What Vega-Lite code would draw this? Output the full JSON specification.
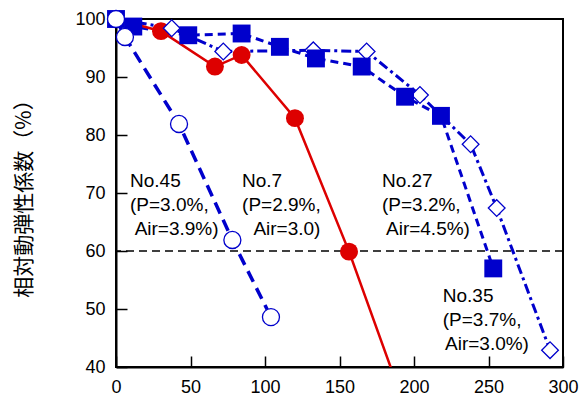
{
  "$schema": "https://vega.github.io/schema/vega-lite/v6.json",
  "width": 447,
  "height": 348,
  "autosize": {"type": "none"},
  "padding": {"left": 116, "top": 19, "right": 19, "bottom": 32},
  "background": "white",
  "config": {
    "view": {"stroke": "black", "strokeWidth": 2},
    "font": "Liberation Sans"
  },
  "datasets": {
    "series": [
      {"s": "No7", "x": 0, "y": 100},
      {"s": "No7", "x": 30.2, "y": 97.9},
      {"s": "No7", "x": 66.4, "y": 91.8},
      {"s": "No7", "x": 84.3, "y": 93.8},
      {"s": "No7", "x": 120.1, "y": 82.9},
      {"s": "No7", "x": 156.4, "y": 59.9},
      {"s": "No7", "x": 192, "y": 34.5},
      {"s": "No27", "x": 0, "y": 100},
      {"s": "No27", "x": 11.6, "y": 98.7},
      {"s": "No27", "x": 48.5, "y": 97.2},
      {"s": "No27", "x": 84.3, "y": 97.5},
      {"s": "No27", "x": 110, "y": 95.2},
      {"s": "No27", "x": 134.2, "y": 93.2},
      {"s": "No27", "x": 164.9, "y": 91.8},
      {"s": "No27", "x": 194, "y": 86.6},
      {"s": "No27", "x": 218.1, "y": 83.3},
      {"s": "No27", "x": 253.2, "y": 57.0},
      {"s": "No35", "x": 0, "y": 100},
      {"s": "No35", "x": 37.4, "y": 98.4},
      {"s": "No35", "x": 72, "y": 94.4},
      {"s": "No35", "x": 132.4, "y": 94.6},
      {"s": "No35", "x": 168.2, "y": 94.4},
      {"s": "No35", "x": 204, "y": 86.9},
      {"s": "No35", "x": 238, "y": 78.4},
      {"s": "No35", "x": 255.5, "y": 67.4},
      {"s": "No35", "x": 291.3, "y": 42.9},
      {"s": "No45", "x": 0, "y": 100},
      {"s": "No45", "x": 6, "y": 96.9},
      {"s": "No45", "x": 42.3, "y": 81.9},
      {"s": "No45", "x": 78.1, "y": 61.9},
      {"s": "No45", "x": 104, "y": 48.6}
    ],
    "labels": [
      {"t": "No.45", "x": 9.4, "y": 71.0},
      {"t": "(P=3.0%,", "x": 9.4, "y": 66.9},
      {"t": "Air=3.9%)", "x": 12.5, "y": 62.8},
      {"t": "No.7", "x": 84.6, "y": 71.0},
      {"t": "(P=2.9%,", "x": 84.6, "y": 66.9},
      {"t": "Air=3.0)", "x": 92.2, "y": 62.8},
      {"t": "No.27", "x": 178.5, "y": 71.0},
      {"t": "(P=3.2%,", "x": 178.5, "y": 66.9},
      {"t": "Air=4.5%)", "x": 181.2, "y": 62.8},
      {"t": "No.35", "x": 219.3, "y": 51.2},
      {"t": "(P=3.7%,", "x": 219.3, "y": 47.1},
      {"t": "Air=3.0%)", "x": 220.8, "y": 42.9}
    ]
  },
  "layer": [
    {
      "data": {"values": [{}]},
      "mark": {"type": "rect", "fill": null, "stroke": "black", "strokeWidth": 2},
      "encoding": {
        "x": {"datum": 0, "type": "quantitative"},
        "x2": {"datum": 300},
        "y": {"datum": 40, "type": "quantitative"},
        "y2": {"datum": 100}
      }
    },
    {
      "data": {"values": [{"v": 60}]},
      "mark": {"type": "rule", "stroke": "black", "strokeWidth": 1.3, "strokeDash": [8, 5]},
      "encoding": {
        "y": {"field": "v", "type": "quantitative"}
      }
    },
    {
      "data": {"name": "series"},
      "transform": [{"filter": "datum.s === 'No27'"}],
      "mark": {"type": "line", "stroke": "#0000cc", "strokeWidth": 3, "strokeDash": [8, 5]},
      "encoding": {
        "x": {
          "field": "x", "type": "quantitative",
          "scale": {"domain": [0, 300], "nice": false, "zero": false},
          "axis": {
            "title": null,
            "values": [0, 50, 100, 150, 200, 250, 300],
            "ticks": true,
            "tickSize": -11,
            "labelPadding": 22,
            "labelFontSize": 18,
            "labelColor": "black",
            "labelFont": "Liberation Sans",
            "labelFlush": false,
            "labelOverlap": false,
            "labelBound": false,
            "domainColor": "black",
            "domainWidth": 2,
            "tickColor": "black",
            "tickWidth": 1.5,
            "grid": false
          }
        },
        "y": {
          "field": "y", "type": "quantitative",
          "scale": {"domain": [40, 100], "nice": false, "zero": false},
          "axis": {
            "title": "相対動弾性係数（%）",
            "titleFont": "Noto Sans CJK JP",
            "titleFontSize": 21,
            "titleFontWeight": "normal",
            "titleColor": "black",
            "titlePadding": 40,
            "values": [40, 50, 60, 70, 80, 90, 100],
            "ticks": true,
            "tickSize": -11,
            "labelPadding": 22,
            "labelFontSize": 18,
            "labelColor": "black",
            "labelFont": "Liberation Sans",
            "labelFlush": false,
            "labelOverlap": false,
            "labelBound": false,
            "domainColor": "black",
            "domainWidth": 2,
            "tickColor": "black",
            "tickWidth": 1.5,
            "grid": false
          }
        }
      }
    },
    {
      "data": {"name": "series"},
      "transform": [{"filter": "datum.s === 'No35'"}],
      "mark": {"type": "line", "stroke": "#0000cc", "strokeWidth": 3, "strokeDash": [10, 4, 3, 4]},
      "encoding": {
        "x": {"field": "x", "type": "quantitative"},
        "y": {"field": "y", "type": "quantitative"}
      }
    },
    {
      "data": {"name": "series"},
      "transform": [{"filter": "datum.s === 'No45'"}],
      "mark": {"type": "line", "stroke": "#0000cc", "strokeWidth": 3.5, "strokeDash": [12, 7]},
      "encoding": {
        "x": {"field": "x", "type": "quantitative"},
        "y": {"field": "y", "type": "quantitative"}
      }
    },
    {
      "data": {"name": "series"},
      "transform": [{"filter": "datum.s === 'No7'"}],
      "mark": {"type": "line", "stroke": "#dd0000", "strokeWidth": 2.5, "clip": true},
      "encoding": {
        "x": {"field": "x", "type": "quantitative"},
        "y": {"field": "y", "type": "quantitative"}
      }
    },
    {
      "data": {"name": "series"},
      "transform": [{"filter": "datum.s === 'No7'"}],
      "mark": {"type": "point", "shape": "circle", "filled": true, "fill": "#dd0000", "size": 320, "opacity": 1, "clip": true},
      "encoding": {
        "x": {"field": "x", "type": "quantitative"},
        "y": {"field": "y", "type": "quantitative"}
      }
    },
    {
      "data": {"name": "series"},
      "transform": [{"filter": "datum.s === 'No35'"}],
      "mark": {"type": "point", "shape": "diamond", "filled": true, "fill": "white", "stroke": "#0000cc", "strokeWidth": 1.3, "size": 280, "opacity": 1},
      "encoding": {
        "x": {"field": "x", "type": "quantitative"},
        "y": {"field": "y", "type": "quantitative"}
      }
    },
    {
      "data": {"name": "series"},
      "transform": [{"filter": "datum.s === 'No27'"}],
      "mark": {"type": "point", "shape": "square", "filled": true, "fill": "#0000cc", "size": 320, "opacity": 1},
      "encoding": {
        "x": {"field": "x", "type": "quantitative"},
        "y": {"field": "y", "type": "quantitative"}
      }
    },
    {
      "data": {"name": "series"},
      "transform": [{"filter": "datum.s === 'No45'"}],
      "mark": {"type": "point", "shape": "circle", "filled": true, "fill": "white", "stroke": "#0000cc", "strokeWidth": 1.3, "size": 290, "opacity": 1},
      "encoding": {
        "x": {"field": "x", "type": "quantitative"},
        "y": {"field": "y", "type": "quantitative"}
      }
    },
    {
      "data": {"name": "labels"},
      "mark": {"type": "text", "align": "left", "baseline": "alphabetic", "font": "Liberation Sans", "fontSize": 19, "color": "black"},
      "encoding": {
        "x": {"field": "x", "type": "quantitative"},
        "y": {"field": "y", "type": "quantitative"},
        "text": {"field": "t"}
      }
    }
  ]
}
